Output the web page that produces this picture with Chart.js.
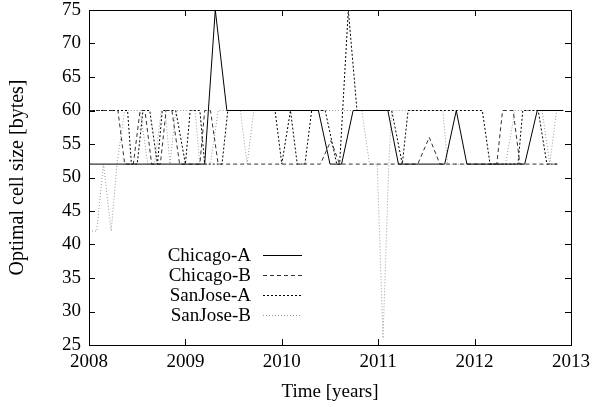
<!DOCTYPE html>
<html>
<head>
<meta charset="utf-8">
<script src="https://cdn.jsdelivr.net/npm/chart.js@4.4.1/dist/chart.umd.min.js"></script>
<style>
  html, body { margin: 0; padding: 0; background: #fff; }
  #chart { display: block; }
</style>
</head>
<body>
<canvas id="chart" width="595" height="407"></canvas>
<script>
// values (time in years, cell size in bytes)
const chicagoA_t = [2008.00, 2009.20, 2009.31, 2009.43, 2010.38, 2010.50, 2010.62, 2010.74, 2011.10, 2011.21, 2011.69, 2011.81, 2011.92, 2012.52, 2012.65, 2012.92];
const chicagoA_v = [52, 52, 75, 60, 60, 52, 52, 60, 60, 52, 52, 60, 52, 52, 60, 60];

const chicagoB_t = [2008.00, 2008.30, 2008.37, 2008.46, 2008.53, 2008.58, 2008.65, 2008.74, 2008.80, 2008.86, 2008.94, 2009.15, 2009.20, 2009.26, 2009.34, 2010.40, 2010.51, 2010.60, 2011.41, 2011.53, 2011.64, 2012.23, 2012.29, 2012.40, 2012.47, 2012.86];
const chicagoB_v = [60, 60, 52, 52, 60, 60, 52, 52, 60, 60, 52, 52, 60, 60, 52, 52, 55.5, 52, 52, 56, 52, 52, 60, 60, 52, 52];

const sanjoseA_t = [2008.00, 2008.40, 2008.44, 2008.50, 2008.56, 2008.63, 2008.71, 2008.76, 2008.90, 2009.00, 2009.05, 2009.15, 2009.20, 2009.38, 2009.44, 2009.93, 2010.00, 2010.09, 2010.16, 2010.24, 2010.31, 2010.45, 2010.57, 2010.60, 2010.69, 2010.78, 2011.14, 2011.25, 2011.31, 2012.08, 2012.16, 2012.45, 2012.50, 2012.66, 2012.75, 2012.86];
const sanjoseA_v = [60, 60, 52, 52, 60, 60, 52, 60, 60, 52, 60, 60, 52, 52, 60, 60, 52, 60, 52, 52, 60, 60, 52, 52, 75, 60, 60, 52, 60, 60, 52, 52, 60, 60, 52, 52];

const sanjoseB_t = [2008.00, 2008.08, 2008.15, 2008.23, 2008.29, 2008.37, 2008.53, 2008.61, 2008.68, 2008.75, 2008.79, 2008.84, 2008.90, 2009.10, 2009.15, 2009.26, 2009.34, 2009.57, 2009.64, 2009.71, 2010.83, 2010.91, 2010.99, 2011.05, 2011.11, 2011.14, 2011.67, 2011.72, 2012.32, 2012.42, 2012.70, 2012.78, 2012.85, 2012.92];
const sanjoseB_v = [42, 42, 52, 42, 52, 60, 60, 52, 52, 60, 60, 52, 60, 60, 52, 52, 60, 60, 52, 60, 60, 52, 52, 26, 52, 60, 60, 52, 52, 60, 60, 52, 60, 60];

const seriesNames = ['Chicago-A', 'Chicago-B', 'SanJose-A', 'SanJose-B'];
const xTicks = [2008, 2009, 2010, 2011, 2012, 2013];
const yTicks = [25, 30, 35, 40, 45, 50, 55, 60, 65, 70, 75];

const FONT = { family: "'Liberation Serif', 'DejaVu Serif', serif", size: 19 };

function toPoints(ts, vs) {
    return ts.map((t, i) => ({ x: t, y: vs[i] }));
}

// gnuplot style: box round the plot, ticks pointing inwards, key drawn by hand
const gnuplotFrame = {
    id: 'gnuplotFrame',
    afterDraw(chart) {
        const ctx = chart.ctx;
        const a = chart.chartArea;
        const xs = chart.scales.x, ys = chart.scales.y;
        const TL = 6;
        ctx.save();
        ctx.strokeStyle = '#000';
        ctx.lineWidth = 1;
        ctx.strokeRect(Math.round(a.left) + 0.5, Math.round(a.top) + 0.5,
                       Math.round(a.right - a.left), Math.round(a.bottom - a.top));
        ctx.beginPath();
        xTicks.forEach(v => {
            const px = Math.round(xs.getPixelForValue(v)) + 0.5;
            ctx.moveTo(px, a.bottom); ctx.lineTo(px, a.bottom - TL);
            ctx.moveTo(px, a.top); ctx.lineTo(px, a.top + TL);
        });
        yTicks.forEach(v => {
            const py = Math.round(ys.getPixelForValue(v)) + 0.5;
            ctx.moveTo(a.left, py); ctx.lineTo(a.left + TL, py);
            ctx.moveTo(a.right, py); ctx.lineTo(a.right - TL, py);
        });
        ctx.stroke();

        // key
        ctx.font = FONT.size + 'px ' + FONT.family;
        ctx.textAlign = 'right';
        ctx.textBaseline = 'middle';
        chart.data.datasets.forEach((ds, i) => {
            const y = 255 + i * 20;
            ctx.fillStyle = '#000';
            ctx.fillText(ds.label, 251, y + 1);
            ctx.strokeStyle = ds.borderColor;
            ctx.setLineDash(ds.borderDash || []);
            ctx.beginPath();
            ctx.moveTo(263, y + 0.5);
            ctx.lineTo(302, y + 0.5);
            ctx.stroke();
        });
        ctx.restore();
    }
};

const ctx = document.getElementById('chart').getContext('2d');
new Chart(ctx, {
    type: 'line',
    data: {
        datasets: [
            { label: seriesNames[0], data: toPoints(chicagoA_t, chicagoA_v), borderColor: '#000', borderDash: [] },
            { label: seriesNames[1], data: toPoints(chicagoB_t, chicagoB_v), borderColor: '#333', borderDash: [4, 3] },
            { label: seriesNames[2], data: toPoints(sanjoseA_t, sanjoseA_v), borderColor: '#000', borderDash: [2, 2] },
            { label: seriesNames[3], data: toPoints(sanjoseB_t, sanjoseB_v), borderColor: '#999', borderDash: [1, 2] }
        ].map(d => Object.assign(d, { borderWidth: 1, pointRadius: 0, tension: 0, fill: false }))
    },
    options: {
        responsive: false,
        animation: false,
        layout: { padding: { top: 10, right: 24, left: 0, bottom: 0 } },
        plugins: { legend: { display: false }, tooltip: { enabled: false } },
        scales: {
            x: {
                type: 'linear', min: 2008, max: 2013,
                afterBuildTicks: s => { s.ticks = xTicks.map(v => ({ value: v })); },
                ticks: { color: '#000', font: FONT, padding: 6, maxRotation: 0, callback: v => String(v) },
                grid: { display: false, drawTicks: false },
                border: { display: false },
                title: { display: true, text: 'Time [years]', color: '#000', font: FONT, padding: { top: 4, bottom: 4 } },
                afterFit: s => { s.height = 62; s.paddingLeft = 0; s.paddingRight = 0; }
            },
            y: {
                min: 25, max: 75,
                afterBuildTicks: s => { s.ticks = yTicks.map(v => ({ value: v })); },
                ticks: { color: '#000', font: FONT, padding: 8, callback: v => String(v) },
                grid: { display: false, drawTicks: false },
                border: { display: false },
                title: { display: true, text: 'Optimal cell size [bytes]', color: '#000',
                         font: { family: FONT.family, size: 20 }, padding: { top: 6, bottom: 4 } },
                afterFit: s => { s.width = 89; s.paddingTop = 0; s.paddingBottom = 0; }
            }
        }
    },
    plugins: [gnuplotFrame]
});
</script>
</body>
</html>
